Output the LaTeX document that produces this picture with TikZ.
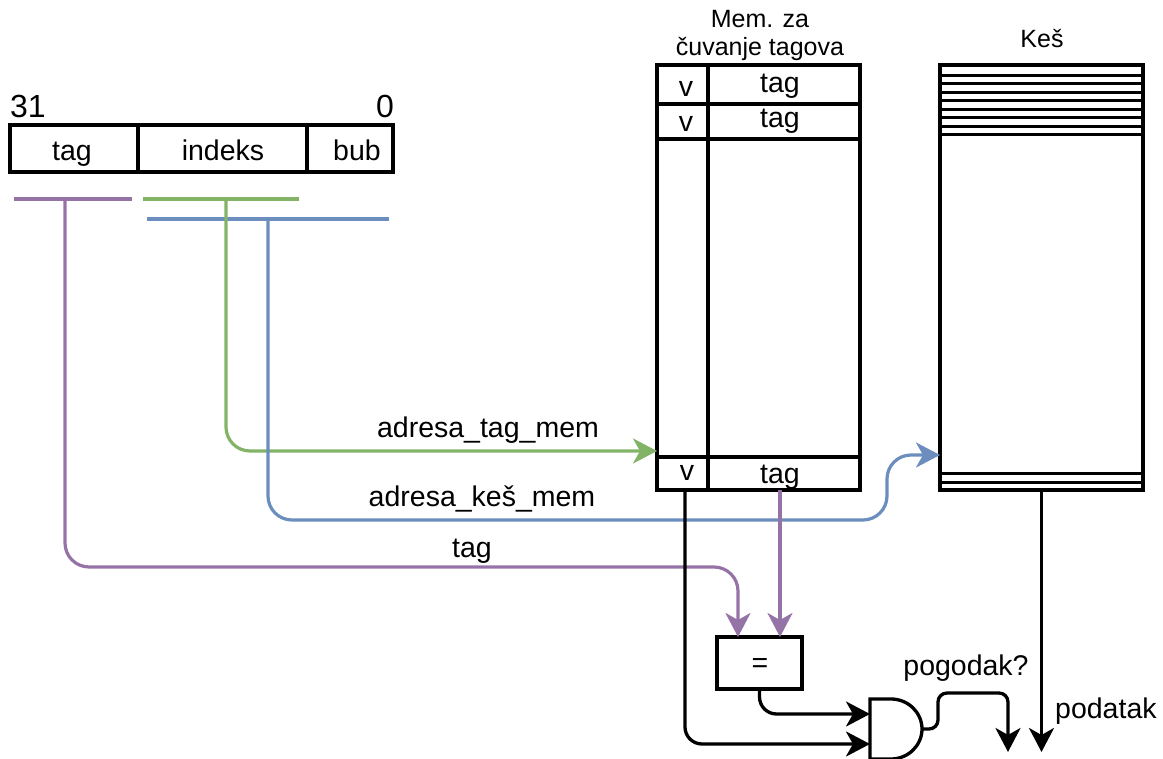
\documentclass[tikz,border=0pt]{standalone}
\usepackage{fontspec}
\setmainfont{Liberation Sans}
\usetikzlibrary{arrows.meta,fit}

\definecolor{sigpurple}{HTML}{9673A6}
\definecolor{siggreen}{HTML}{82B366}
\definecolor{sigblue}{HTML}{6C8EBF}

\begin{document}
\begin{tikzpicture}[x=1pt,y=-1pt,
  box/.style={draw, line width=3.3pt, inner sep=0pt, outer sep=0pt},
  rowline/.style={line width=3.3pt},
  cacheline/.style={line width=3pt},
  lbl/.style={font=\fontsize{28.5}{33}\selectfont, inner sep=0pt, anchor=base},
  ttl/.style={font=\fontsize{25}{30}\selectfont, inner sep=0pt, anchor=base},
  bitno/.style={font=\fontsize{32}{36}\selectfont, inner sep=0pt},
  bus/.style={line width=3.2pt},
  wire/.style={line width=3.2pt, rounded corners=24pt},
  bwire/.style={line width=3.3pt, rounded corners=17pt},
  tip/.style={-{Stealth[length=24pt,width=25pt,inset=7pt]}}
]
\useasboundingbox (0,0) rectangle (1163,759);

% address register: fields and bit numbers
\node[box, fit={(10,125)(138,172)}] (ftag) {};
\node[box, fit={(138,125)(307,172)}] (fidx) {};
\node[box, fit={(307,125)(393,172)}] (fbub) {};
\node[lbl] (ltag) at (72,161) {tag};
\node[lbl] (lidx) at (223,161) {indeks};
\node[lbl] (lbub) at (357,161) {bub};
\node[bitno, anchor=base west] (b31) at (10,118) {31};
\node[bitno, anchor=base east] (b0) at (394,118) {0};

% bus bars under the register
\coordinate (busTagL) at (14,199);  \coordinate (busTagR) at (132,199);
\coordinate (busIdxL) at (143,199); \coordinate (busIdxR) at (299,199);
\coordinate (busKesL) at (147,219); \coordinate (busKesR) at (389,219);
\coordinate (ptap) at (65,199);
\coordinate (gtap) at (226,199);
\coordinate (btap) at (268,219);
\draw[bus, sigpurple] (busTagL) -- (busTagR);
\draw[bus, siggreen] (busIdxL) -- (busIdxR);
\draw[bus, sigblue] (busKesL) -- (busKesR);

% tag memory
\node[ttl] (tmemT1) at (760,28) {Mem. za};
\node[ttl] (tmemT2) at (760,56) {čuvanje tagova};
\node[box, fit={(657,65)(860,490)}] (tmem) {};
\draw[rowline] (657,104) -- (860,104);
\draw[rowline] (657,139) -- (860,139);
\draw[rowline] (657,457) -- (860,457);
\draw[rowline] (708,65) -- (708,490);
\node[lbl] (v1) at (686,97) {v};
\node[lbl] (t1) at (780,93) {tag};
\node[lbl] (v2) at (686,132) {v};
\node[lbl] (t2) at (780,128) {tag};
\node[lbl] (v3) at (687,480) {v};
\node[lbl] (t3) at (780,483) {tag};

% cache memory
\node[ttl] (kesT) at (1042,48) {Keš};
\node[box, fit={(940,65)(1143,490)}] (cache) {};
\foreach \yy in {75.5,84,92.5,101,109.5,118,126.5,135,473,482}
  \draw[cacheline] (940,\yy) -- (1143,\yy);

% comparator and AND gate
\node[box, fit={(717,637)(802,689)}] (eq) {};
\node[lbl] (eqs) at (760,672) {=};
\node[inner sep=0pt, minimum width=52pt, minimum height=60pt] (andg) at (896,729) {};
\draw[line width=3.3pt, line join=miter]
  (870,699) -- (891,699)
  .. controls (908,699) and (922,712.4) .. (922,729)
  .. controls (922,745.6) and (908,759) .. (891,759)
  -- (870,759) -- cycle;
\coordinate (andIn1) at (870,714);
\coordinate (andIn2) at (870,744);
\coordinate (andOut) at (922,729);

% signals
\coordinate (gbend) at (226,451);
\draw[wire, siggreen, tip] (gtap) -- (gbend) -- (gbend -| tmem.west);
\node[lbl] (ladrtag) at (488,438) {adresa\_tag\_mem};

\coordinate (bbend) at (268,520);
\coordinate (bturn) at (887,520);
\coordinate (bturn2) at (887,455);
\draw[wire, sigblue, tip] (btap) -- (bbend) -- (bturn) -- (bturn2) -- (bturn2 -| cache.west);
\node[lbl] (ladrkes) at (482,507) {adresa\_keš\_mem};

\coordinate (pbend) at (65,567);
\coordinate (pturn) at (738,567);
\draw[wire, sigpurple, tip] (ptap) -- (pbend) -- (pturn) -- (pturn |- eq.north);
\node[lbl] (ltagsig) at (472,557) {tag};

\coordinate (tagOut) at (780,490);
\draw[wire, sigpurple, tip] (tagOut) -- (tagOut |- eq.north);

\coordinate (vOut) at (685,490);
\draw[bwire, tip] (vOut) -- (vOut |- andIn2) -- (andIn2);
\draw[bwire, tip] (eq.south) -- (eq.south |- andIn1) -- (andIn1);

\coordinate (hitA) at (938,729);
\coordinate (hitB) at (938,693);
\coordinate (hitC) at (1008,693);
\coordinate (hitEnd) at (1008,752);
\draw[line width=3.3pt, rounded corners=9pt, tip] (andOut) -- (hitA) -- (hitB) -- (hitC) -- (hitEnd);
\node[lbl] (lhit) at (966,675) {pogodak?};

\coordinate (dataEnd) at (1041.5,752);
\draw[line width=3.3pt, tip] (cache.south) -- (dataEnd);
\node[lbl, anchor=base west] (ldata) at (1055,718) {podatak};
\end{tikzpicture}
\end{document}
